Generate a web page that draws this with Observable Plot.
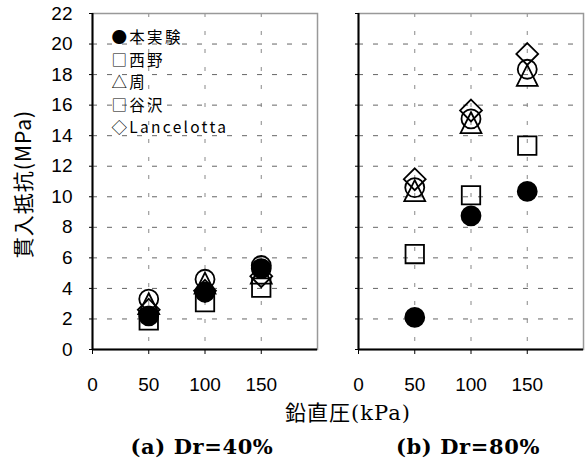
<!DOCTYPE html>
<html>
<head>
<meta charset="utf-8">
<script src="https://cdn.jsdelivr.net/npm/d3@7"></script>
<script src="https://cdn.jsdelivr.net/npm/@observablehq/plot@0.6"></script>
<style>
  body { margin: 0; background: #fff; }
  #fig { position: relative; width: 587px; height: 463px; overflow: hidden; background: #fff; }
  #fig svg { position: absolute; top: 0; overflow: visible; }
  .lbl { position: absolute; white-space: nowrap; color: #000; }
  #ytitle { left: 22px; top: 184px; transform: translate(-50%, -50%) rotate(-90deg);
            font: 21px "Noto Sans CJK JP", sans-serif; letter-spacing: 1px; line-height: 22px; }
  #xtitle { left: 348px; top: 413px; transform: translate(-50%, -50%);
            font: 21px "DejaVu Serif", "Noto Sans CJK JP", serif; letter-spacing: 1px; line-height: 22px; }
  .cap { top: 447px; transform: translate(-50%, -50%); font: bold 21px "DejaVu Serif", serif;
         letter-spacing: 0.6px; line-height: 22px; }
  .legend-text { letter-spacing: 2.3px; }
</style>
</head>
<body>
<div id="fig"></div>
<script>
// Vertical pressure (kPa) and penetration resistance (MPa) for each source
const pressure = [50, 100, 150];
const seriesNames = ["本実験", "西野", "周", "谷沢", "Lancelotta"];
const legendGlyphs = ["●", "□", "△", "□", "◇"];

// (a) Dr = 40%
const dr40Experiment = [2.2, 3.75, 5.3];
const dr40Nishino = [1.9, 3.1, 4.05];
const dr40Zhou = [3.0, 4.35, 5.0];
const dr40Yazawa = [3.3, 4.6, 5.5];
const dr40Lancelotta = [2.6, 3.85, 4.8];

// (b) Dr = 80%
const dr80Experiment = [2.1, 8.75, 10.35];
const dr80Nishino = [6.25, 10.1, 13.35];
const dr80Zhou = [10.4, 14.85, 17.95];
const dr80Yazawa = [10.6, 15.1, 18.35];
const dr80Lancelotta = [11.15, 15.65, 19.35];

const xTicks = [0, 50, 100, 150];
const yTicks = [0, 2, 4, 6, 8, 10, 12, 14, 16, 18, 20, 22];
const yGrid = [2, 4, 6, 8, 10, 12, 14, 16, 18, 20];
const xGrid = [50, 100, 150];

// Marker shapes (size is π r²)
const rad = (size) => Math.sqrt(size / Math.PI);
const squareSym = { draw(c, size) { const r = rad(size) * 0.97; c.rect(-r, -r, 2 * r, 2 * r); } };
const triangleSym = { draw(c, size) { const h = rad(size) * 1.1; c.moveTo(0, -h); c.lineTo(h, h); c.lineTo(-h, h); c.closePath(); } };
const diamondSym = { draw(c, size) { const d = rad(size) * 1.15; c.moveTo(0, -d); c.lineTo(d, 0); c.lineTo(0, d); c.lineTo(-d, 0); c.closePath(); } };

function series(values) {
  return pressure.map((p, i) => ({ p, v: values[i] }));
}

const legendText = seriesNames.map((name, i) => legendGlyphs[i] + name).join("\n");

function panel(sets, { width, marginLeft, showLabels, showLegend }) {
  const [exp, nishino, zhou, yazawa, lanc] = sets;
  const common = { x: "p", y: "v", r: 9.5, strokeWidth: 1.8 };
  return Plot.plot({
    width, height: 400,
    marginLeft, marginRight: 4, marginTop: 13, marginBottom: 51,
    x: { domain: [0, 200] },
    y: { domain: [0, 22] },
    style: { fontFamily: "'Liberation Sans', Arial, sans-serif", fontSize: "19px", color: "#000", background: "none" },
    marks: [
      Plot.gridY(yGrid, { stroke: "#666", strokeOpacity: 1, strokeWidth: 1, strokeDasharray: "5,10" }),
      Plot.gridX(xGrid, { stroke: "#888", strokeOpacity: 1, strokeWidth: 1, strokeDasharray: "4,14" }),
      Plot.frame({ stroke: "#999", strokeWidth: 1.5 }),
      Plot.ruleX([0], { stroke: "#000", strokeWidth: 2 }),
      Plot.ruleY([0], { stroke: "#000", strokeWidth: 2 }),
      Plot.axisX({ ticks: xTicks, tickSize: 5, tickPadding: 23, label: null, tickFormat: (d) => d }),
      Plot.axisY({ ticks: yTicks, tickSize: 3, tickPadding: 17, label: null,
                   tickFormat: showLabels ? (d) => d : () => "" }),
      Plot.dot(series(nishino), { ...common, symbol: squareSym, fill: "none", stroke: "#000" }),
      Plot.dot(series(zhou), { ...common, symbol: triangleSym, fill: "none", stroke: "#000" }),
      Plot.dot(series(yazawa), { ...common, symbol: "circle", fill: "none", stroke: "#000" }),
      Plot.dot(series(lanc), { ...common, symbol: diamondSym, fill: "none", stroke: "#000" }),
      Plot.dot(series(exp), { ...common, symbol: "circle", fill: "#000", stroke: "#000" }),
      showLegend ? Plot.text([legendText], {
        text: (d) => d, frameAnchor: "top-left", textAnchor: "start", lineAnchor: "top",
        dx: 19, dy: 14, lineHeight: 22.5 / 15.5, fontSize: 15.5,
        fontFamily: "'Noto Sans CJK JP', sans-serif", fill: "#000", className: "legend-text"
      }) : null
    ]
  });
}

const fig = document.getElementById("fig");

const left = panel([dr40Experiment, dr40Nishino, dr40Zhou, dr40Yazawa, dr40Lancelotta],
                   { width: 321, marginLeft: 92, showLabels: true, showLegend: true });
left.style.left = "0px";
fig.appendChild(left);

const right = panel([dr80Experiment, dr80Nishino, dr80Zhou, dr80Yazawa, dr80Lancelotta],
                    { width: 247, marginLeft: 18, showLabels: false, showLegend: false });
right.style.left = "340px";
fig.appendChild(right);

function addLabel(id, cls, text, extra) {
  const d = document.createElement("div");
  if (id) d.id = id;
  d.className = "lbl" + (cls ? " " + cls : "");
  d.textContent = text;
  if (extra) Object.assign(d.style, extra);
  fig.appendChild(d);
  return d;
}

addLabel("ytitle", "", "貫入抵抗(MPa)");
addLabel("xtitle", "", "鉛直圧(kPa)");
addLabel(null, "cap", "(a) Dr=40%", { left: "202px" });
addLabel(null, "cap", "(b) Dr=80%", { left: "468px" });
</script>
</body>
</html>
